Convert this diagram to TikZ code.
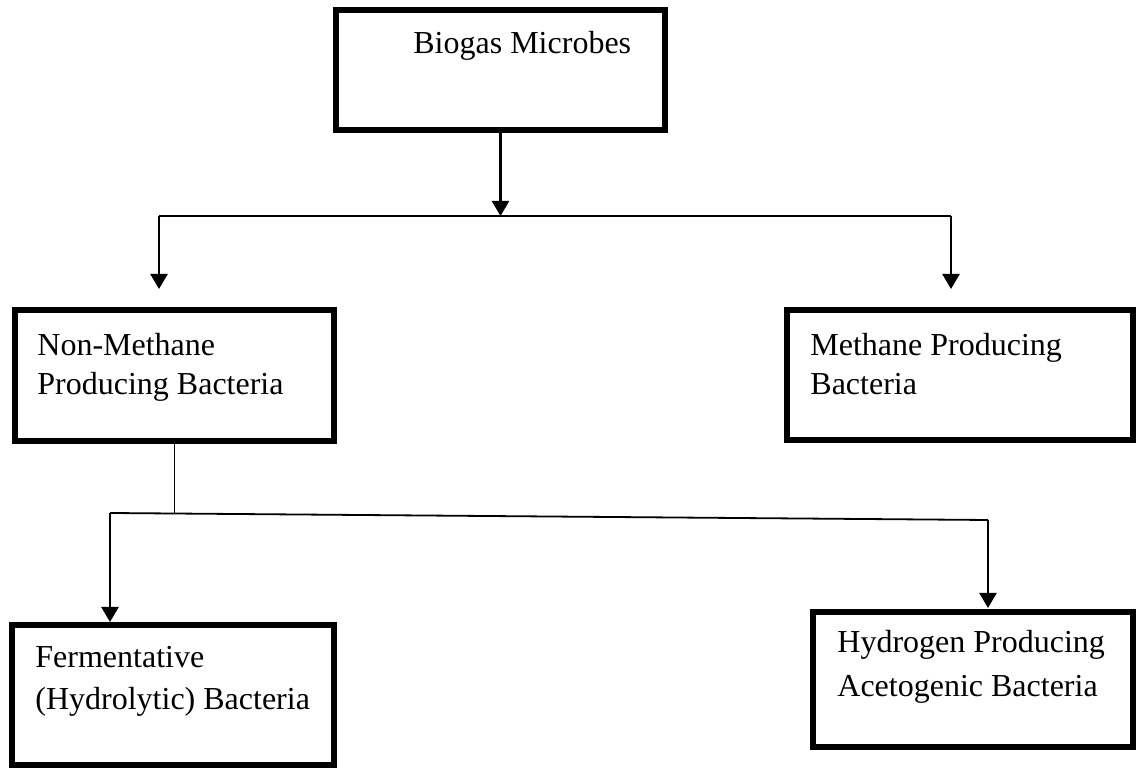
\documentclass[tikz,border=0pt]{standalone}
\usepackage{fontspec}
\setmainfont{Liberation Serif}
\usepackage{tikz}
\usetikzlibrary{arrows.meta,positioning}

\begin{document}
\begin{tikzpicture}[
  x=0.5pt, y=-0.5pt,
  font=\fontsize{16pt}{19.5pt}\selectfont,
  box/.style={draw, line width=3.2pt, anchor=north west, inner sep=0pt, outer sep=0pt},
  txt/.style={align=left, inner sep=0pt},
  arr/.style={-{Triangle[length=7.5pt, width=8.5pt]}, line width=1.2pt},
  link/.style={line width=0.9pt}
]
\useasboundingbox (0,0) rectangle (1136,769);

% boxes
\node[box, minimum width=164.5pt, minimum height=60pt] (bio) at (336,10) {};
\node[box, minimum width=159.5pt, minimum height=65.5pt] (nonm) at (15,310) {};
\node[box, minimum width=173pt, minimum height=65pt] (meth) at (787,310) {};
\node[box, minimum width=161pt, minimum height=70pt] (ferm) at (12,625) {};
\node[box, minimum width=160pt, minimum height=67.5pt] (hyd) at (813,612) {};

% texts
\node[txt, below right=10.5pt and 38.5pt of bio.north west] (biotxt) {Biogas Microbes};
\node[txt, below right=11.5pt and 11pt of nonm.north west] (nonmtxt) {Non-Methane\\Producing Bacteria};
\node[txt, below right=11.5pt and 11.5pt of meth.north west] (methtxt) {Methane Producing\\Bacteria};
\node[txt, below right=10.5pt and 11.5pt of ferm.north west] (fermtxt) {Fermentative\\[1.5pt](Hydrolytic) Bacteria};
\node[txt, below right=9pt and 12pt of hyd.north west] (hydtxt) {Hydrogen Producing\\[2.5pt]Acetogenic Bacteria};

% junctions
\coordinate (top) at (504,216);
\coordinate (hl) at (159,216);
\coordinate (hr) at (951,216);
\coordinate (mid) at (176,513);
\coordinate (fl) at (110,513);
\coordinate (fr) at (988,520);

% connectors
\draw[arr] (bio.south) -- (bio.south |- top);
\draw[link] (hl) -- (hr);
\draw[arr, shorten >=10.5pt] (hl) -- (hl |- nonm.north);
\draw[arr, shorten >=10.5pt] (hr) -- (hr |- meth.north);
\draw[link] (nonm.south) -- (nonm.south |- mid);
\draw[link] (fl) -- (fr);
\draw[arr, shorten >=1.5pt] (fl) -- (fl |- ferm.north);
\draw[arr, shorten >=2pt] (fr) -- (fr |- hyd.north);
\end{tikzpicture}
\end{document}
